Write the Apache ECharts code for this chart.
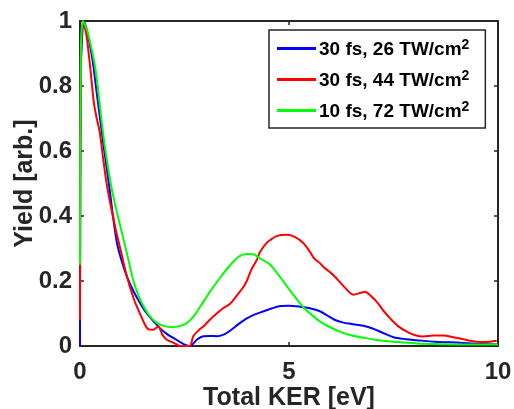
<!DOCTYPE html>
<html>
<head>
<meta charset="utf-8">
<script src="https://cdn.jsdelivr.net/npm/echarts@6/dist/echarts.min.js"></script>
<style>
  html, body { margin: 0; padding: 0; background: #fff; }
  #chart { width: 514px; height: 409px; }
</style>
</head>
<body>
<div id="chart"></div>
<script>
  // legend labels
  var seriesNames = ['30 fs, 26 TW/cm', '30 fs, 44 TW/cm', '10 fs, 72 TW/cm'];
  var seriesColors = ['#0000ff', '#ff0000', '#00ff00'];

  // [KER eV, yield]
  var blueData = [
    [0, 0], [0.02, 0.85], [0.1, 1.0], [0.2, 0.95], [0.3, 0.88], [0.4, 0.78], [0.55, 0.63],
    [0.68, 0.51], [0.88, 0.32], [1.05, 0.24], [1.2, 0.19], [1.4, 0.14], [1.6, 0.1],
    [1.91, 0.055], [2.1, 0.035], [2.23, 0.025], [2.4, 0.012], [2.51, 0.004], [2.63, 0],
    [2.8, 0.02], [2.95, 0.03], [3.1, 0.031], [3.27, 0.03], [3.45, 0.036], [3.59, 0.047],
    [3.8, 0.068], [3.99, 0.085], [4.2, 0.098], [4.4, 0.107], [4.6, 0.116], [4.8, 0.123],
    [5.0, 0.124], [5.26, 0.121], [5.5, 0.116], [5.74, 0.107], [5.9, 0.095], [6.1, 0.08],
    [6.3, 0.072], [6.5, 0.068], [6.78, 0.062], [7.0, 0.054], [7.2, 0.043], [7.5, 0.027],
    [7.8, 0.021], [8.05, 0.018], [8.5, 0.013], [9.09, 0.01], [9.5, 0.007], [10, 0.005]
  ];
  var redData = [
    [0, 0.08], [0.02, 0.85], [0.07, 1.0], [0.15, 0.96], [0.25, 0.85], [0.33, 0.75], [0.4, 0.7],
    [0.47, 0.66], [0.55, 0.58], [0.65, 0.49], [0.84, 0.367], [1.0, 0.28], [1.12, 0.215],
    [1.3, 0.14], [1.4, 0.11], [1.52, 0.075], [1.63, 0.052], [1.75, 0.05], [1.87, 0.06],
    [1.97, 0.035], [2.07, 0.02], [2.2, 0.012], [2.3, 0.006], [2.39, 0], [2.62, 0],
    [2.71, 0.03], [2.85, 0.05], [2.95, 0.06], [3.1, 0.08], [3.27, 0.1], [3.43, 0.117],
    [3.59, 0.13], [3.75, 0.155], [3.9, 0.18], [3.99, 0.2], [4.1, 0.235], [4.23, 0.265],
    [4.31, 0.29], [4.45, 0.315], [4.55, 0.326], [4.7, 0.338], [4.94, 0.342], [5.15, 0.335],
    [5.34, 0.317], [5.5, 0.29], [5.6, 0.27], [5.74, 0.255], [5.82, 0.244], [6.0, 0.225],
    [6.1, 0.213], [6.3, 0.185], [6.54, 0.158], [6.7, 0.163], [6.82, 0.167], [6.95, 0.155],
    [7.1, 0.136], [7.25, 0.11], [7.42, 0.085], [7.6, 0.062], [7.82, 0.044], [8.0, 0.034],
    [8.21, 0.029], [8.45, 0.032], [8.69, 0.032], [8.9, 0.028], [9.09, 0.023], [9.3, 0.017],
    [9.49, 0.013], [9.7, 0.012], [9.97, 0.016]
  ];
  var greenData = [
    [0, 0.25], [0.02, 0.9], [0.07, 1.0], [0.15, 0.98], [0.25, 0.93], [0.36, 0.86], [0.45, 0.77],
    [0.52, 0.69], [0.6, 0.61], [0.72, 0.51], [0.85, 0.43], [1.0, 0.35], [1.15, 0.27],
    [1.28, 0.2], [1.4, 0.155], [1.51, 0.125], [1.65, 0.095], [1.83, 0.072], [2.0, 0.062],
    [2.23, 0.058], [2.4, 0.062], [2.55, 0.07], [2.7, 0.088], [2.87, 0.12], [3.1, 0.165],
    [3.35, 0.21], [3.6, 0.25], [3.8, 0.275], [3.99, 0.283], [4.15, 0.282], [4.3, 0.27],
    [4.55, 0.25], [4.8, 0.21], [5.02, 0.172], [5.34, 0.12], [5.55, 0.095], [5.74, 0.076],
    [5.95, 0.06], [6.2, 0.045], [6.46, 0.034], [6.8, 0.025], [7.25, 0.016], [7.6, 0.012],
    [8.05, 0.008], [8.5, 0.006], [9, 0.005], [10, 0.005]
  ];
  var allData = [blueData, redData, greenData];

  var axisColor = '#262626';
  var font = 'Liberation Sans, Arial, sans-serif';

  var chart = echarts.init(document.getElementById('chart'));

  var labelStyle = {
    color: axisColor,
    fontFamily: font,
    fontWeight: 'bold',
    fontSize: 24
  };

  // plain axis line with inward ticks, used for all four sides of the box
  function boxAxis(position) {
    var horiz = position === 'top' || position === 'bottom';
    return {
      type: 'value',
      position: position,
      min: 0,
      max: horiz ? 10 : 1,
      interval: horiz ? 5 : 0.2,
      axisLine: { show: true, onZero: false, lineStyle: { color: axisColor, width: 2 } },
      axisTick: { show: true, inside: true, length: 4, lineStyle: { color: axisColor, width: 1.5 } },
      axisLabel: { show: false },
      splitLine: { show: false }
    };
  }

  var xMain = boxAxis('bottom');
  xMain.name = 'Total KER [eV]';
  xMain.nameLocation = 'middle';
  xMain.nameGap = 40;
  xMain.nameMoveOverlap = false;
  xMain.nameTextStyle = { color: axisColor, fontFamily: font, fontWeight: 'bold', fontSize: 25 };
  xMain.axisLabel = Object.assign({ show: true, margin: 14 }, labelStyle);

  var yMain = boxAxis('left');
  yMain.name = 'Yield [arb.]';
  yMain.nameLocation = 'middle';
  yMain.nameGap = 42;
  yMain.nameMoveOverlap = false;
  yMain.nameTextStyle = { color: axisColor, fontFamily: font, fontWeight: 'bold', fontSize: 25 };
  yMain.axisLabel = Object.assign({ show: true, margin: 8 }, labelStyle);

  chart.setOption({
    animation: false,
    backgroundColor: '#fff',
    grid: { left: 80, right: 16, top: 21, bottom: 63, outerBoundsMode: 'none', containLabel: false },
    legend: {
      orient: 'vertical',
      left: 269,
      top: 30,
      padding: [8, 16, 7, 8],
      itemGap: 10,
      itemWidth: 39,
      itemHeight: 3,
      icon: 'rect',
      borderColor: axisColor,
      borderWidth: 1.5,
      borderRadius: 0,
      backgroundColor: '#fff',
      data: seriesNames,
      formatter: function (name) {
        return '{n|' + name + '}{s|2}';
      },
      textStyle: {
        padding: [0, 0, 0, -2],
        rich: {
          n: { fontFamily: font, fontWeight: 'bold', fontSize: 19, color: '#000', lineHeight: 21, verticalAlign: 'bottom' },
          s: { fontFamily: font, fontWeight: 'bold', fontSize: 14, color: '#000', lineHeight: 13, verticalAlign: 'top' }
        }
      }
    },
    xAxis: [xMain, boxAxis('top')],
    yAxis: [yMain, boxAxis('right')],
    series: allData.map(function (d, i) {
      return {
        name: seriesNames[i],
        type: 'line',
        data: d,
        showSymbol: false,
        symbol: 'none',
        smooth: 0.3,
        lineStyle: { color: seriesColors[i], width: 2 },
        itemStyle: { color: seriesColors[i] }
      };
    })
  });
</script>
</body>
</html>
